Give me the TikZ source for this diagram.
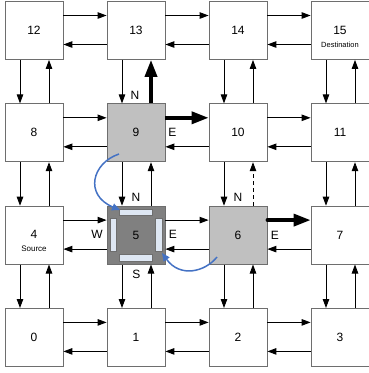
\documentclass[tikz,border=0pt]{standalone}
\usepackage{fontspec}
\setmainfont{Liberation Sans}
\usetikzlibrary{arrows.meta}
\definecolor{boxline}{RGB}{110,110,110}
\definecolor{lightg}{RGB}{192,192,192}
\definecolor{darkg}{RGB}{128,128,128}
\definecolor{buf}{RGB}{222,231,243}
\definecolor{curveblue}{RGB}{68,114,196}
\begin{document}
\begin{tikzpicture}[x=1pt,y=-1pt,
  box/.style={draw=boxline, line width=0.8pt, fill=white, minimum size=58pt, inner sep=0pt, font=\fontsize{12}{14}\selectfont},
  arr/.style={draw=black, line width=0.9pt, -{Triangle[length=9pt,width=6.5pt]}},
  bigarr/.style={draw=black, line width=3.5pt, -{Triangle[length=17pt,width=12pt]}},
  lbl/.style={font=\fontsize{12}{14}\selectfont, inner sep=0pt},
  small/.style={inner sep=0pt},
  buffer/.style={draw=boxline, line width=0.6pt, fill=buf},
  bluearr/.style={draw=curveblue, line width=1.5pt, -{Triangle[length=8pt,width=7pt]}}]
\useasboundingbox (0,0) rectangle (369,373);
% row 3 (top)
\node[box] (n12) at (34,30.5) {12};
\node[box] (n13) at (136,30.5) {13};
\node[box] (n14) at (238,30.5) {14};
\node[box] (n15) at (340,30.5) {15};
% row 2
\node[box] (n8) at (34,132.8) {8};
\node[box, fill=lightg] (n9) at (136,132.8) {9};
\node[box] (n10) at (238,132.8) {10};
\node[box] (n11) at (340,132.8) {11};
% row 1
\node[box] (n4) at (34,235.1) {\raisebox{2pt}{4}};
\node[box, fill=darkg] (n5) at (136,235.1) {};
\node[box, fill=lightg] (n6) at (238,235.1) {6};
\node[box] (n7) at (340,235.1) {7};
% row 0
\node[box] (n0) at (34,337.4) {0};
\node[box] (n1) at (136,337.4) {1};
\node[box] (n2) at (238,337.4) {2};
\node[box] (n3) at (340,337.4) {3};
% sub labels
\node[small, font=\fontsize{7.5}{9}\selectfont] (dest) at (340,45) {Destination};
\node[small, font=\fontsize{8}{9}\selectfont] (src) at (34,249) {Source};
% buffers of node 5
\draw[buffer] ([shift={(-16.5,-26)}]n5.center) rectangle ([shift={(16.5,-19.5)}]n5.center);
\draw[buffer] ([shift={(-16.5,19.5)}]n5.center) rectangle ([shift={(16.5,26)}]n5.center);
\draw[buffer] ([shift={(-26,-16.5)}]n5.center) rectangle ([shift={(-19.5,16.5)}]n5.center);
\draw[buffer] ([shift={(19.5,-16.5)}]n5.center) rectangle ([shift={(26,16.5)}]n5.center);
\node[lbl] (l5) at (n5.center) {5};
% horizontal arrows, eastbound (top)
\foreach \a/\b in {0/1,1/2,2/3,4/5,5/6,8/9,10/11,12/13,13/14,14/15}
  \draw[arr] ([yshift=15pt]n\a.east) -- ([yshift=15pt]n\b.west);
% horizontal arrows, westbound (bottom)
\foreach \a/\b in {0/1,1/2,2/3,4/5,5/6,6/7,8/9,9/10,10/11,12/13,13/14,14/15}
  \draw[arr] ([yshift=-14pt]n\b.west) -- ([yshift=-14pt]n\a.east);
% vertical arrows, southbound (left)
\foreach \l/\u in {0/4,1/5,2/6,3/7,4/8,5/9,6/10,7/11,8/12,9/13,10/14,11/15}
  \draw[arr] ([xshift=-14pt]n\u.south) -- ([xshift=-14pt]n\l.north);
% vertical arrows, northbound (right)
\foreach \l/\u in {0/4,1/5,2/6,3/7,4/8,5/9,7/11,8/12,10/14,11/15}
  \draw[arr] ([xshift=15pt]n\l.north) -- ([xshift=15pt]n\u.south);
% special arrows
\draw[arr, dash pattern=on 4pt off 3pt] ([xshift=15pt]n6.north) -- ([xshift=15pt]n10.south);
\draw[bigarr] ([xshift=15pt]n9.north) -- ([xshift=15pt]n13.south);
\draw[bigarr] ([yshift=15pt]n9.east) -- ([yshift=15pt]n10.west);
\draw[bigarr, line cap=round] ([yshift=15pt]n6.east) -- ([yshift=15pt]n7.west);
% port labels
\node[lbl] (n9N) at (135,95) {N};
\node[lbl] (n9E) at (172.5,132.5) {E};
\node[lbl] (n5N) at (136,197) {N};
\node[lbl] (n5W) at (97,234.5) {W};
\node[lbl] (n5E) at (173,234.5) {E};
\node[lbl] (n5S) at (136.5,274) {S};
\node[lbl] (n6N) at (238,197) {N};
\node[lbl] (n6E) at (275,235) {E};
% blue routing curves
\coordinate (c9) at (119,154);
\coordinate (c5a) at (120,210);
\coordinate (c6) at (217,257);
\coordinate (c5b) at (162,253);
\draw[bluearr] (c9) .. controls (92,163) and (84,195) .. (c5a);
\draw[bluearr] (c6) .. controls (205,272) and (180,278) .. (c5b);
\end{tikzpicture}
\end{document}
